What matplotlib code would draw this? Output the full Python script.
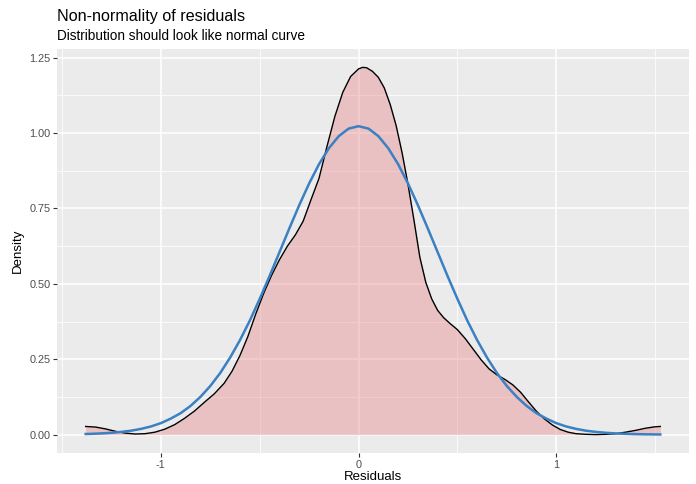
import numpy as np
import matplotlib
matplotlib.use("Agg")
import matplotlib.pyplot as plt

# values
# observed residual density (black curve)
obs_x = [-1.38, -1.33, -1.28, -1.23, -1.18, -1.13, -1.08, -1.03, -0.98, -0.93,
         -0.88, -0.83, -0.78, -0.73, -0.68, -0.64, -0.60, -0.56, -0.52, -0.48,
         -0.44, -0.40, -0.36, -0.32, -0.28, -0.24, -0.20, -0.16, -0.12, -0.08,
         -0.04, 0.00, 0.02, 0.04, 0.07, 0.10, 0.13, 0.16, 0.19, 0.22,
         0.25, 0.28, 0.31, 0.34, 0.37, 0.40, 0.43, 0.46, 0.50, 0.54,
         0.58, 0.62, 0.66, 0.70, 0.74, 0.78, 0.82, 0.86, 0.90, 0.94,
         0.98, 1.02, 1.06, 1.10, 1.15, 1.20, 1.25, 1.30, 1.35, 1.40,
         1.45, 1.50, 1.526]
obs_y = [0.027, 0.025, 0.019, 0.011, 0.005, 0.002, 0.003, 0.008, 0.018, 0.033,
         0.054, 0.078, 0.107, 0.135, 0.170, 0.210, 0.262, 0.325, 0.400, 0.468,
         0.528, 0.580, 0.625, 0.662, 0.708, 0.780, 0.850, 0.955, 1.055, 1.135,
         1.188, 1.213, 1.218, 1.217, 1.205, 1.185, 1.150, 1.095, 1.025, 0.935,
         0.830, 0.712, 0.588, 0.505, 0.450, 0.412, 0.388, 0.370, 0.348, 0.318,
         0.283, 0.248, 0.218, 0.198, 0.183, 0.165, 0.140, 0.108, 0.077, 0.052,
         0.032, 0.017, 0.008, 0.003, 0.001, 0.000, 0.001, 0.003, 0.008, 0.014,
         0.021, 0.026, 0.027]

# normal reference curve (blue)
norm_x = [-1.38, -1.35, -1.30, -1.25, -1.20, -1.15, -1.10, -1.05, -1.00, -0.95,
          -0.90, -0.85, -0.80, -0.75, -0.70, -0.65, -0.60, -0.55, -0.50, -0.45,
          -0.40, -0.35, -0.30, -0.25, -0.20, -0.15, -0.10, -0.05, 0.00, 0.05,
          0.10, 0.15, 0.20, 0.25, 0.30, 0.35, 0.40, 0.45, 0.50, 0.55,
          0.60, 0.65, 0.70, 0.75, 0.80, 0.85, 0.90, 0.95, 1.00, 1.05,
          1.10, 1.15, 1.20, 1.25, 1.30, 1.35, 1.40, 1.45, 1.50, 1.526]
norm_y = [0.002, 0.0026, 0.004, 0.006, 0.009, 0.013, 0.019, 0.027, 0.038, 0.053,
          0.071, 0.095, 0.125, 0.161, 0.204, 0.255, 0.313, 0.378, 0.450, 0.526,
          0.605, 0.684, 0.761, 0.833, 0.897, 0.950, 0.990, 1.015, 1.023, 1.015,
          0.990, 0.950, 0.897, 0.833, 0.761, 0.684, 0.605, 0.526, 0.450, 0.378,
          0.313, 0.255, 0.204, 0.161, 0.125, 0.095, 0.071, 0.053, 0.038, 0.027,
          0.019, 0.013, 0.009, 0.006, 0.004, 0.0026, 0.0016, 0.001, 0.0006, 0.0005]

x_ticks = [-1, 0, 1]
x_minor = [-1.5, -0.5, 0.5, 1.5]
y_ticks = [0.00, 0.25, 0.50, 0.75, 1.00, 1.25]
y_minor = [0.125, 0.375, 0.625, 0.875, 1.125]

plt.rcParams['font.family'] = ['Liberation Sans', 'DejaVu Sans']

W, H = 696, 484
fig = plt.figure(figsize=(W / 100, H / 100), dpi=100)
# panel box in pixels: left 57, right 689, top 49, bottom 453
ax = fig.add_axes([57 / W, 1 - 453 / H, (689 - 57) / W, (453 - 49) / H])
ax.set_facecolor('#EBEBEB')
for s in ax.spines.values():
    s.set_visible(False)

ax.set_xlim(-1.525, 1.671)
ax.set_ylim(-0.061, 1.279)

# grid
for v in x_minor:
    ax.axvline(v, color='white', lw=0.55, zorder=0)
for v in y_minor:
    ax.axhline(v, color='white', lw=0.55, zorder=0)
for v in x_ticks:
    ax.axvline(v, color='white', lw=1.1, zorder=0)
for v in y_ticks:
    ax.axhline(v, color='white', lw=1.1, zorder=0)

ax.fill_between(obs_x, 0, obs_y, color='#E68287', alpha=0.4, lw=0, zorder=2)
ax.plot(obs_x, obs_y, color='black', lw=1.0, zorder=3, solid_joinstyle='round')
ax.plot(norm_x, norm_y, color='#3A80C2', lw=1.8, zorder=4, solid_joinstyle='round')

ax.set_xticks(x_ticks)
ax.set_xticklabels(['-1', '0', '1'])
ax.set_yticks(y_ticks)
ax.set_yticklabels(['0.00', '0.25', '0.50', '0.75', '1.00', '1.25'])
ax.tick_params(axis='both', length=2.8, width=0.8, color='#333333',
               labelsize=7.8, labelcolor='#4D4D4D', pad=2)

ax.set_xlabel('Residuals', fontsize=9.5, color='black', labelpad=1)
ax.set_ylabel('Density', fontsize=9.5, color='black', labelpad=4)

fig.text(57 / W, 1 - 21 / H, 'Non-normality of residuals', fontsize=11.6,
         ha='left', va='baseline')
fig.text(57 / W, 1 - 40 / H, 'Distribution should look like normal curve',
         fontsize=9.8, ha='left', va='baseline')

fig.savefig('out.png', dpi=100)
